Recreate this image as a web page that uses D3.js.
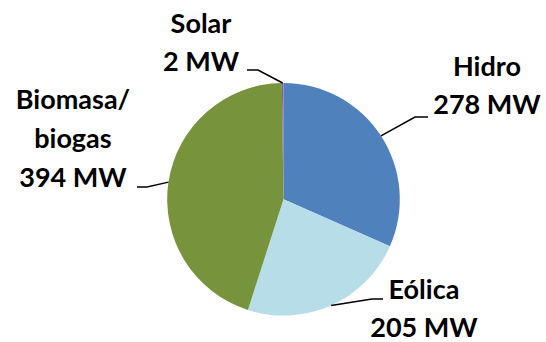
<!DOCTYPE html>
<html>
<head>
<meta charset="utf-8">
<script src="https://cdn.jsdelivr.net/npm/d3@7"></script>
<style>
  html, body { margin: 0; padding: 0; background: #fff; }
  svg { display: block; }
  text { font-family: Lato, "Open Sans", "Liberation Sans", sans-serif; font-weight: 700; fill: #000; }
</style>
</head>
<body>
<svg id="chart" width="546" height="342"></svg>
<script>
// Installed capacity by source (MW)
const sources = ["Hidro", "Eólica", "Biomasa/biogas", "Solar"];
const capacityMW = [278, 205, 394, 2];
const labelLines = [["Hidro", "278 MW"], ["Eólica", "205 MW"], ["Biomasa/", "biogas", "394 MW"], ["Solar", "2 MW"]];
const sliceColors = ["#4F81BD", "#B7DDE8", "#77933C", "#8064A2"];

// Label placement: text centre x, first baseline y, and the leader's elbow
const labelLayout = [
  { cx: 487, y0: 76,  dy: 37.5, elbow: [[428, 117], [415, 117]] },
  { cx: 424, y0: 299, dy: 38,   elbow: [[383, 299], [372, 299]] },
  { cx: 73,  y0: 109, dy: 39,   elbow: [[137, 187], [147, 187]] },
  { cx: 201, y0: 33,  dy: 38,   elbow: [[247, 70],  [258, 70]] }
];

const svg = d3.select("#chart");
const cx = 283.5, cy = 199.3, r = 116.3;

const data = sources.map((s, i) => ({ name: s, value: capacityMW[i], i }));
const pie = d3.pie().sort(null).value(d => d.value).startAngle(0).endAngle(2 * Math.PI);
const arcs = pie(data);
const arc = d3.arc().innerRadius(0).outerRadius(r);

const g = svg.append("g").attr("transform", `translate(${cx},${cy})`);
g.selectAll("path.slice")
  .data(arcs)
  .join("path")
  .attr("class", "slice")
  .attr("d", arc)
  .attr("fill", d => sliceColors[d.data.i]);

// Leader lines: from label elbow to the slice's mid-angle on the rim
const line = d3.line();
arcs.forEach(a => {
  const mid = (a.startAngle + a.endAngle) / 2;
  const rim = [cx + r * Math.sin(mid), cy - r * Math.cos(mid)];
  const L = labelLayout[a.data.i];
  svg.append("path")
    .attr("d", line([L.elbow[0], L.elbow[1], rim]))
    .attr("fill", "none")
    .attr("stroke", "#000")
    .attr("stroke-width", 1.5);
});

// Labels
arcs.forEach(a => {
  const L = labelLayout[a.data.i];
  const t = svg.append("text")
    .attr("text-anchor", "middle")
    .attr("font-size", 27);
  labelLines[a.data.i].forEach((s, k) => {
    t.append("tspan").attr("x", L.cx).attr("y", L.y0 + k * L.dy).text(s);
  });
});
</script>
</body>
</html>
